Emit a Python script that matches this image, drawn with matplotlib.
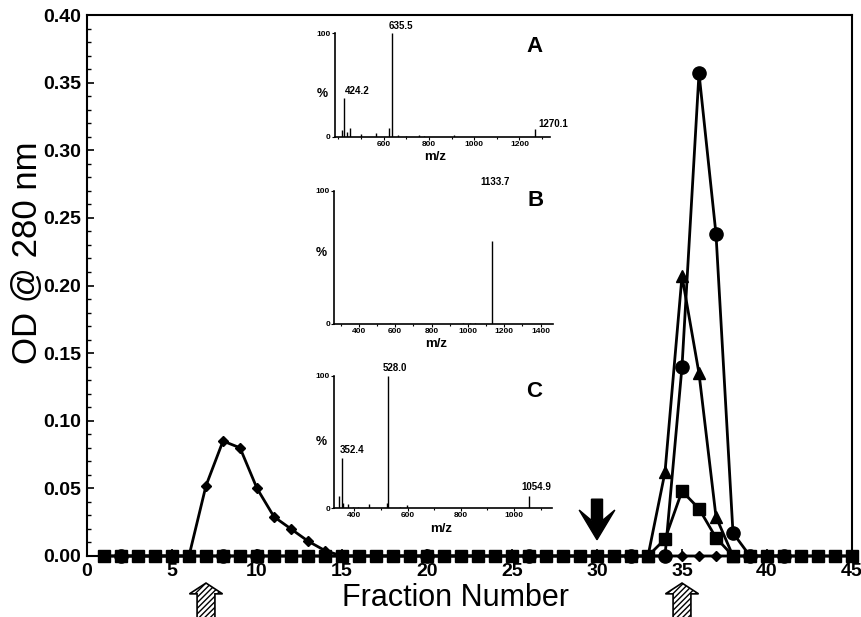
import numpy as np
import matplotlib
matplotlib.use("Agg")
import matplotlib.pyplot as plt
import matplotlib.transforms as mtransforms
from matplotlib.patches import FancyArrow
from matplotlib.ticker import MultipleLocator

plt.rcParams['font.family'] = ['Liberation Sans', 'DejaVu Sans']
plt.rcParams['hatch.linewidth'] = 1.0

# ---------------- main chromatogram data ----------------
fractions = list(range(1, 46))
diamond_od = [0] * 5 + [0, 0.052, 0.085, 0.080, 0.050, 0.029, 0.020, 0.011, 0.004] + [0] * 31
square_od = [0] * 33 + [0.0125, 0.048, 0.035, 0.0135] + [0] * 8
circle_frac = [2, 8, 10, 20, 26, 32, 34, 35, 36, 37, 38, 39, 41]
circle_od = [0, 0, 0, 0, 0, 0, 0, 0.140, 0.357, 0.238, 0.017, 0, 0]
triangle_frac = [33, 34, 35, 36, 37, 38]
triangle_od = [0, 0.062, 0.207, 0.135, 0.029, 0]

up_arrow_fractions = [7, 35]
down_arrow_fraction = 30

x_ticks = [0, 5, 10, 15, 20, 25, 30, 35, 40, 45]
y_ticks = [0.00, 0.05, 0.10, 0.15, 0.20, 0.25, 0.30, 0.35, 0.40]

# ---------------- mass spectra insets ----------------
A_mz = [414, 424.2, 436, 453, 501, 567, 625, 635.5, 662, 698, 757, 778, 910, 1270.1]
A_int = [6, 37, 5, 8, 3, 4, 8, 100, 2, 1, 2, 1, 2, 7.5]
A_xticks = [600, 800, 1000, 1200]

B_mz = [571, 975, 1010, 1040, 1133.7]
B_int = [1, 1, 1, 1, 62]
B_xticks = [400, 600, 800, 1000, 1200, 1400]

C_mz = [344, 352.4, 359, 378, 397, 415, 457, 522, 528.0, 572, 599, 1054.9]
C_int = [9, 38, 4, 3, 1, 1, 3, 4, 100, 1, 2.5, 9.5]
C_xticks = [400, 600, 800, 1000]

W, H = 862, 617
fig = plt.figure(figsize=(W / 100, H / 100), dpi=100)
ax = fig.add_axes([87 / W, 1 - 556 / H, 765 / W, 541 / H])

lw = 2.0
ax.plot(fractions, diamond_od, color='black', lw=lw, marker='D', ms=5.5, clip_on=False, zorder=3)
ax.plot(triangle_frac, triangle_od, color='black', lw=lw, marker='^', ms=9, clip_on=False, zorder=3)
ax.plot(circle_frac, circle_od, color='black', lw=lw, marker='o', ms=9.5, clip_on=False, zorder=4)
ax.plot(fractions, square_od, color='black', lw=lw, marker='s', ms=8, clip_on=False, zorder=5)

ax.set_xlim(0, 45)
ax.set_ylim(0, 0.40)
ax.set_xticks(x_ticks)
ax.set_xticklabels([str(t) for t in x_ticks])
ax.set_yticks(y_ticks)
ax.set_yticklabels([f"{t:.2f}" for t in y_ticks])
ax.yaxis.set_minor_locator(MultipleLocator(0.01))
ax.tick_params(axis='both', which='major', direction='in', length=5, width=1.2,
               labelsize=14)
ax.tick_params(axis='y', which='minor', direction='in', length=3, width=1)
ax.tick_params(axis='x', pad=5)
ax.tick_params(axis='y', pad=4)
for lab in ax.get_xticklabels() + ax.get_yticklabels():
    lab.set_fontweight('bold')
for s in ax.spines.values():
    s.set_linewidth(1.5)

fig.text(28 / W, 1 - 253 / H, "OD @ 280 nm", rotation=90, ha='center', va='center',
         fontsize=25)
fig.text(455 / W, 1 - 598 / H, "Fraction Number", ha='center', va='center', fontsize=22)

# hatched arrows below the axis
trans = mtransforms.blended_transform_factory(ax.transData, ax.transAxes)
for xa in up_arrow_fractions:
    arr = FancyArrow(xa, -0.125, 0, 0.075, width=1.05, head_width=1.95,
                     head_length=0.02, length_includes_head=True, transform=trans,
                     clip_on=False, facecolor='white', edgecolor='black',
                     hatch='//////', lw=1.2, zorder=6)
    ax.add_patch(arr)

# black down arrow
darr = FancyArrow(down_arrow_fraction, 0.042, 0, -0.030, width=0.65, head_width=2.1,
                  head_length=0.022, overhang=0.35, length_includes_head=True,
                  color='black', zorder=6)
ax.add_patch(darr)


def draw_inset(px_rect, mz, inten, xlim, xticks, letter, letter_pos, pct_y, mz_pos):
    left, top, right, bottom = px_rect
    iax = fig.add_axes([left / W, 1 - bottom / H, (right - left) / W, (bottom - top) / H])
    iax.vlines(mz, 0, inten, color='black', lw=1.0)
    iax.set_xlim(*xlim)
    iax.set_ylim(0, 100)
    iax.set_yticks([0, 100])
    iax.set_yticklabels(["0", "100"])
    iax.set_xticks(xticks)
    iax.set_xticklabels([str(t) for t in xticks])
    iax.xaxis.set_minor_locator(MultipleLocator(100))
    iax.tick_params(axis='both', which='major', direction='out', length=2, width=0.8,
                    labelsize=6, pad=1)
    iax.tick_params(axis='x', which='minor', direction='out', length=1.5, width=0.8)
    for lab in iax.get_xticklabels() + iax.get_yticklabels():
        lab.set_fontweight('bold')
    iax.spines['top'].set_visible(False)
    iax.spines['right'].set_visible(False)
    iax.spines['left'].set_linewidth(1.2)
    iax.spines['bottom'].set_linewidth(1.2)
    iax.patch.set_alpha(0)
    iax.text(letter_pos[0], letter_pos[1], letter, transform=iax.transAxes,
             fontsize=16, fontweight='bold', ha='center', va='center')
    iax.text(-0.06, pct_y, "%", transform=iax.transAxes, fontsize=9,
             fontweight='bold', ha='center', va='center')
    iax.text(mz_pos[0], mz_pos[1], "m/z", transform=iax.transAxes, fontsize=9.5,
             fontweight='bold', ha='center', va='center')
    return iax


axA = draw_inset((335, 33.3, 550, 136.7), A_mz, A_int, (385, 1335), A_xticks,
                 "A", (0.93, 0.87), 0.41, (0.465, -0.20))
axA.annotate("635.5", xy=(635.5, 100), xytext=(-2, 2), textcoords='offset points',
             ha='left', va='bottom', fontsize=7, fontweight='bold')
axA.annotate("424.2", xy=(424.2, 37), xytext=(1, 2), textcoords='offset points',
             ha='left', va='bottom', fontsize=7, fontweight='bold')
axA.annotate("1270.1", xy=(1270.1, 7.5), xytext=(2, 0), textcoords='offset points',
             ha='left', va='bottom', fontsize=7, fontweight='bold')

axB = draw_inset((334.3, 190.7, 553.3, 324), B_mz, B_int, (265, 1470), B_xticks,
                 "B", (0.92, 0.93), 0.53, (0.467, -0.15))
axB.annotate("1133.7", xy=(1133.7, 100), xytext=(2, 3), textcoords='offset points',
             ha='center', va='bottom', fontsize=7, fontweight='bold')

axC = draw_inset((334.3, 376, 551.7, 508.3), C_mz, C_int, (325, 1141), C_xticks,
                 "C", (0.92, 0.88), 0.50, (0.49, -0.155))
axC.annotate("528.0", xy=(528.0, 100), xytext=(-4, 2), textcoords='offset points',
             ha='left', va='bottom', fontsize=7, fontweight='bold')
axC.annotate("352.4", xy=(352.4, 38), xytext=(-1, 2), textcoords='offset points',
             ha='left', va='bottom', fontsize=7, fontweight='bold')
axC.annotate("1054.9", xy=(1054.9, 9.5), xytext=(-5, 3), textcoords='offset points',
             ha='left', va='bottom', fontsize=7, fontweight='bold')

fig.savefig("out.png", dpi=100)
